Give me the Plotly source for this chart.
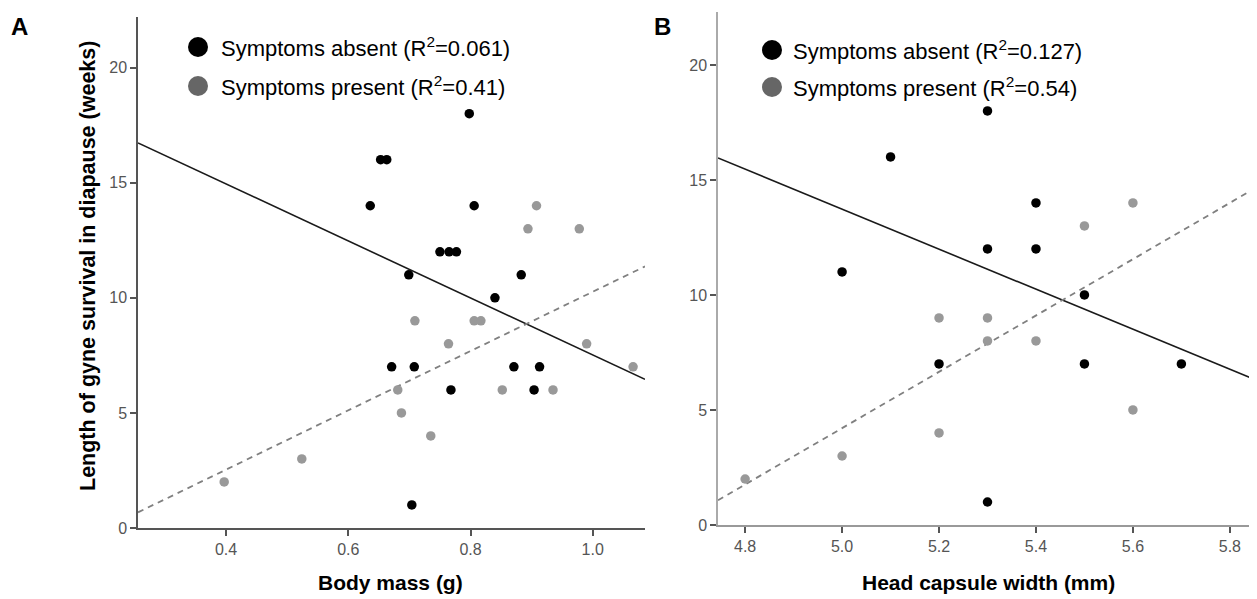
import plotly.graph_objects as go

# Page offset of the plot inside the browser body (default 8px margin)
OFF = 8
W, H = 1257 - OFF, 599 - OFF

# ---------------- Data: Panel A (body mass, g) ----------------
a_absent_x = [0.798, 0.653, 0.663, 0.636, 0.806, 0.750, 0.765, 0.777, 0.699, 0.883,
              0.840, 0.671, 0.708, 0.871, 0.913, 0.768, 0.904, 0.704]
a_absent_y = [18, 16, 16, 14, 14, 12, 12, 12, 11, 11, 10, 7, 7, 7, 7, 6, 6, 1]
a_present_x = [0.908, 0.894, 0.978, 0.709, 0.806, 0.817, 0.764, 0.990, 1.066, 0.681,
               0.852, 0.935, 0.687, 0.735, 0.524, 0.397]
a_present_y = [14, 13, 13, 9, 9, 9, 8, 8, 7, 6, 6, 6, 5, 4, 3, 2]

# ---------------- Data: Panel B (head capsule width, mm) ----------------
b_absent_x = [5.3, 5.1, 5.4, 5.3, 5.4, 5.0, 5.5, 5.2, 5.5, 5.7, 5.3]
b_absent_y = [18, 16, 14, 12, 12, 11, 10, 7, 7, 7, 1]
b_present_x = [5.6, 5.5, 5.2, 5.3, 5.3, 5.4, 5.6, 5.2, 5.0, 4.8]
b_present_y = [14, 13, 9, 9, 8, 8, 5, 4, 3, 2]

# Fitted regression lines (slope, intercept)
a_absent_fit = (-12.38, 19.90)
a_present_fit = (12.88, -2.617)
b_absent_fit = (-8.70, 57.23)
b_present_fit = (12.24, -56.99)

# Legend labels
a_labels = ["Symptoms absent (R<sup>2</sup>=0.061)", "Symptoms present (R<sup>2</sup>=0.41)"]
b_labels = ["Symptoms absent (R<sup>2</sup>=0.127)", "Symptoms present (R<sup>2</sup>=0.54)"]

# Axis ranges / ticks
a_xrange = [0.256, 1.0855]
b_xrange = [4.744, 5.856]
a_xticks = [0.4, 0.6, 0.8, 1.0]
a_xticklabels = ["0.4", "0.6", "0.8", "1.0"]
b_xticks = [4.8, 5.0, 5.2, 5.4, 5.6, 5.8]
b_xticklabels = ["4.8", "5.0", "5.2", "5.4", "5.6", "5.8"]
yticks = [0, 5, 10, 15, 20]

BLACK = "#000000"
GREY = "#999999"
LEG_GREY = "#666666"
NARROW = "Liberation Sans Narrow, Arial Narrow, Liberation Sans, Arial, sans-serif"
SANS = "Liberation Sans, Arial, Helvetica, sans-serif"

fig = go.Figure()


def add_panel(xa, ya, ax_x, ax_y, px, py, fit_abs, fit_pre, xr):
    xs = xr
    fig.add_trace(go.Scatter(x=xs, y=[fit_abs[0] * v + fit_abs[1] for v in xs], mode="lines",
                             line=dict(color="#1a1a1a", width=1.6), showlegend=False,
                             xaxis=ax_x, yaxis=ax_y, hoverinfo="skip"))
    fig.add_trace(go.Scatter(x=xs, y=[fit_pre[0] * v + fit_pre[1] for v in xs], mode="lines",
                             line=dict(color="#808080", width=1.8, dash="6px,5px"), showlegend=False,
                             xaxis=ax_x, yaxis=ax_y, hoverinfo="skip"))
    fig.add_trace(go.Scatter(x=px, y=py, mode="markers",
                             marker=dict(color=GREY, size=9.5, line=dict(width=0)),
                             showlegend=False, xaxis=ax_x, yaxis=ax_y))
    fig.add_trace(go.Scatter(x=xa, y=ya, mode="markers",
                             marker=dict(color=BLACK, size=9.5, line=dict(width=0)),
                             showlegend=False, xaxis=ax_x, yaxis=ax_y))


add_panel(a_absent_x, a_absent_y, "x", "y", a_present_x, a_present_y,
          a_absent_fit, a_present_fit, a_xrange)
add_panel(b_absent_x, b_absent_y, "x2", "y2", b_present_x, b_present_y,
          b_absent_fit, b_present_fit, b_xrange)


def px2x(p):
    return (p - OFF) / W


def py2y(p):
    return 1 - (p - OFF) / H


axis_common = dict(showgrid=False, zeroline=False, showline=True, ticks="outside",
                   ticklen=6, tickwidth=1.5, linewidth=1.5, automargin=False,
                   tickfont=dict(family=NARROW, size=16, color="#555555"))

fig.update_layout(
    width=W, height=H,
    margin=dict(l=0, r=0, t=0, b=0, autoexpand=False),
    paper_bgcolor="white", plot_bgcolor="white",
    showlegend=False,
    xaxis=dict(domain=[px2x(138), px2x(645)], range=a_xrange, tickvals=a_xticks,
               ticktext=a_xticklabels, anchor="y", linecolor="#555555", tickcolor="#555555",
               **axis_common),
    yaxis=dict(domain=[py2y(528), py2y(17)], range=[0, 22.2], tickvals=yticks,
               anchor="x", linecolor="#555555", tickcolor="#555555", **axis_common),
    xaxis2=dict(domain=[px2x(718), 1.0], range=b_xrange, tickvals=b_xticks,
                ticktext=b_xticklabels, anchor="y2", linecolor="#999999", tickcolor="#555555",
                **axis_common),
    yaxis2=dict(domain=[py2y(525), py2y(12)], range=[0, 22.3], tickvals=yticks,
                anchor="x2", linecolor="#aaaaaa", tickcolor="#555555", **axis_common),
)

annotations = []
shapes = []

# Panel letters
for letter, lx in [("A", 19), ("B", 662)]:
    annotations.append(dict(text="<b>%s</b>" % letter, x=px2x(lx), y=py2y(27), xref="paper",
                            yref="paper", showarrow=False,
                            font=dict(family=SANS, size=24, color="black"),
                            xanchor="center", yanchor="middle"))

# Axis titles
annotations.append(dict(text="<b>Body mass (g)</b>", x=px2x(390), y=py2y(582), xref="paper",
                        yref="paper", showarrow=False, font=dict(family=SANS, size=21, color="black"),
                        xanchor="center", yanchor="middle"))
annotations.append(dict(text="<b>Head capsule width (mm)</b>", x=px2x(988), y=py2y(582),
                        xref="paper", yref="paper", showarrow=False,
                        font=dict(family=SANS, size=21, color="black"),
                        xanchor="center", yanchor="middle"))
annotations.append(dict(text="<b>Length of gyne survival in diapause (weeks)</b>", x=px2x(88),
                        y=py2y(266), xref="paper", yref="paper", showarrow=False, textangle=-90,
                        font=dict(family=SANS, size=21.5, color="black"),
                        xanchor="center", yanchor="middle"))

# Legends
for (mx, tx, rows, labels) in [(198, 219, (47, 86), a_labels), (772, 791, (50, 87), b_labels)]:
    for row_y, label, col in zip(rows, labels, [BLACK, LEG_GREY]):
        shapes.append(dict(type="circle", xref="paper", yref="paper", xsizemode="pixel",
                           ysizemode="pixel", xanchor=px2x(mx), yanchor=py2y(row_y),
                           x0=-10, x1=10, y0=-10, y1=10, fillcolor=col, line=dict(width=0)))
        annotations.append(dict(text=label, x=px2x(tx), y=py2y(row_y), xref="paper", yref="paper",
                                showarrow=False, xanchor="left", yanchor="middle",
                                font=dict(family=SANS, size=22, color="black")))

fig.update_layout(annotations=annotations, shapes=shapes)

fig.write_html("out.html")
